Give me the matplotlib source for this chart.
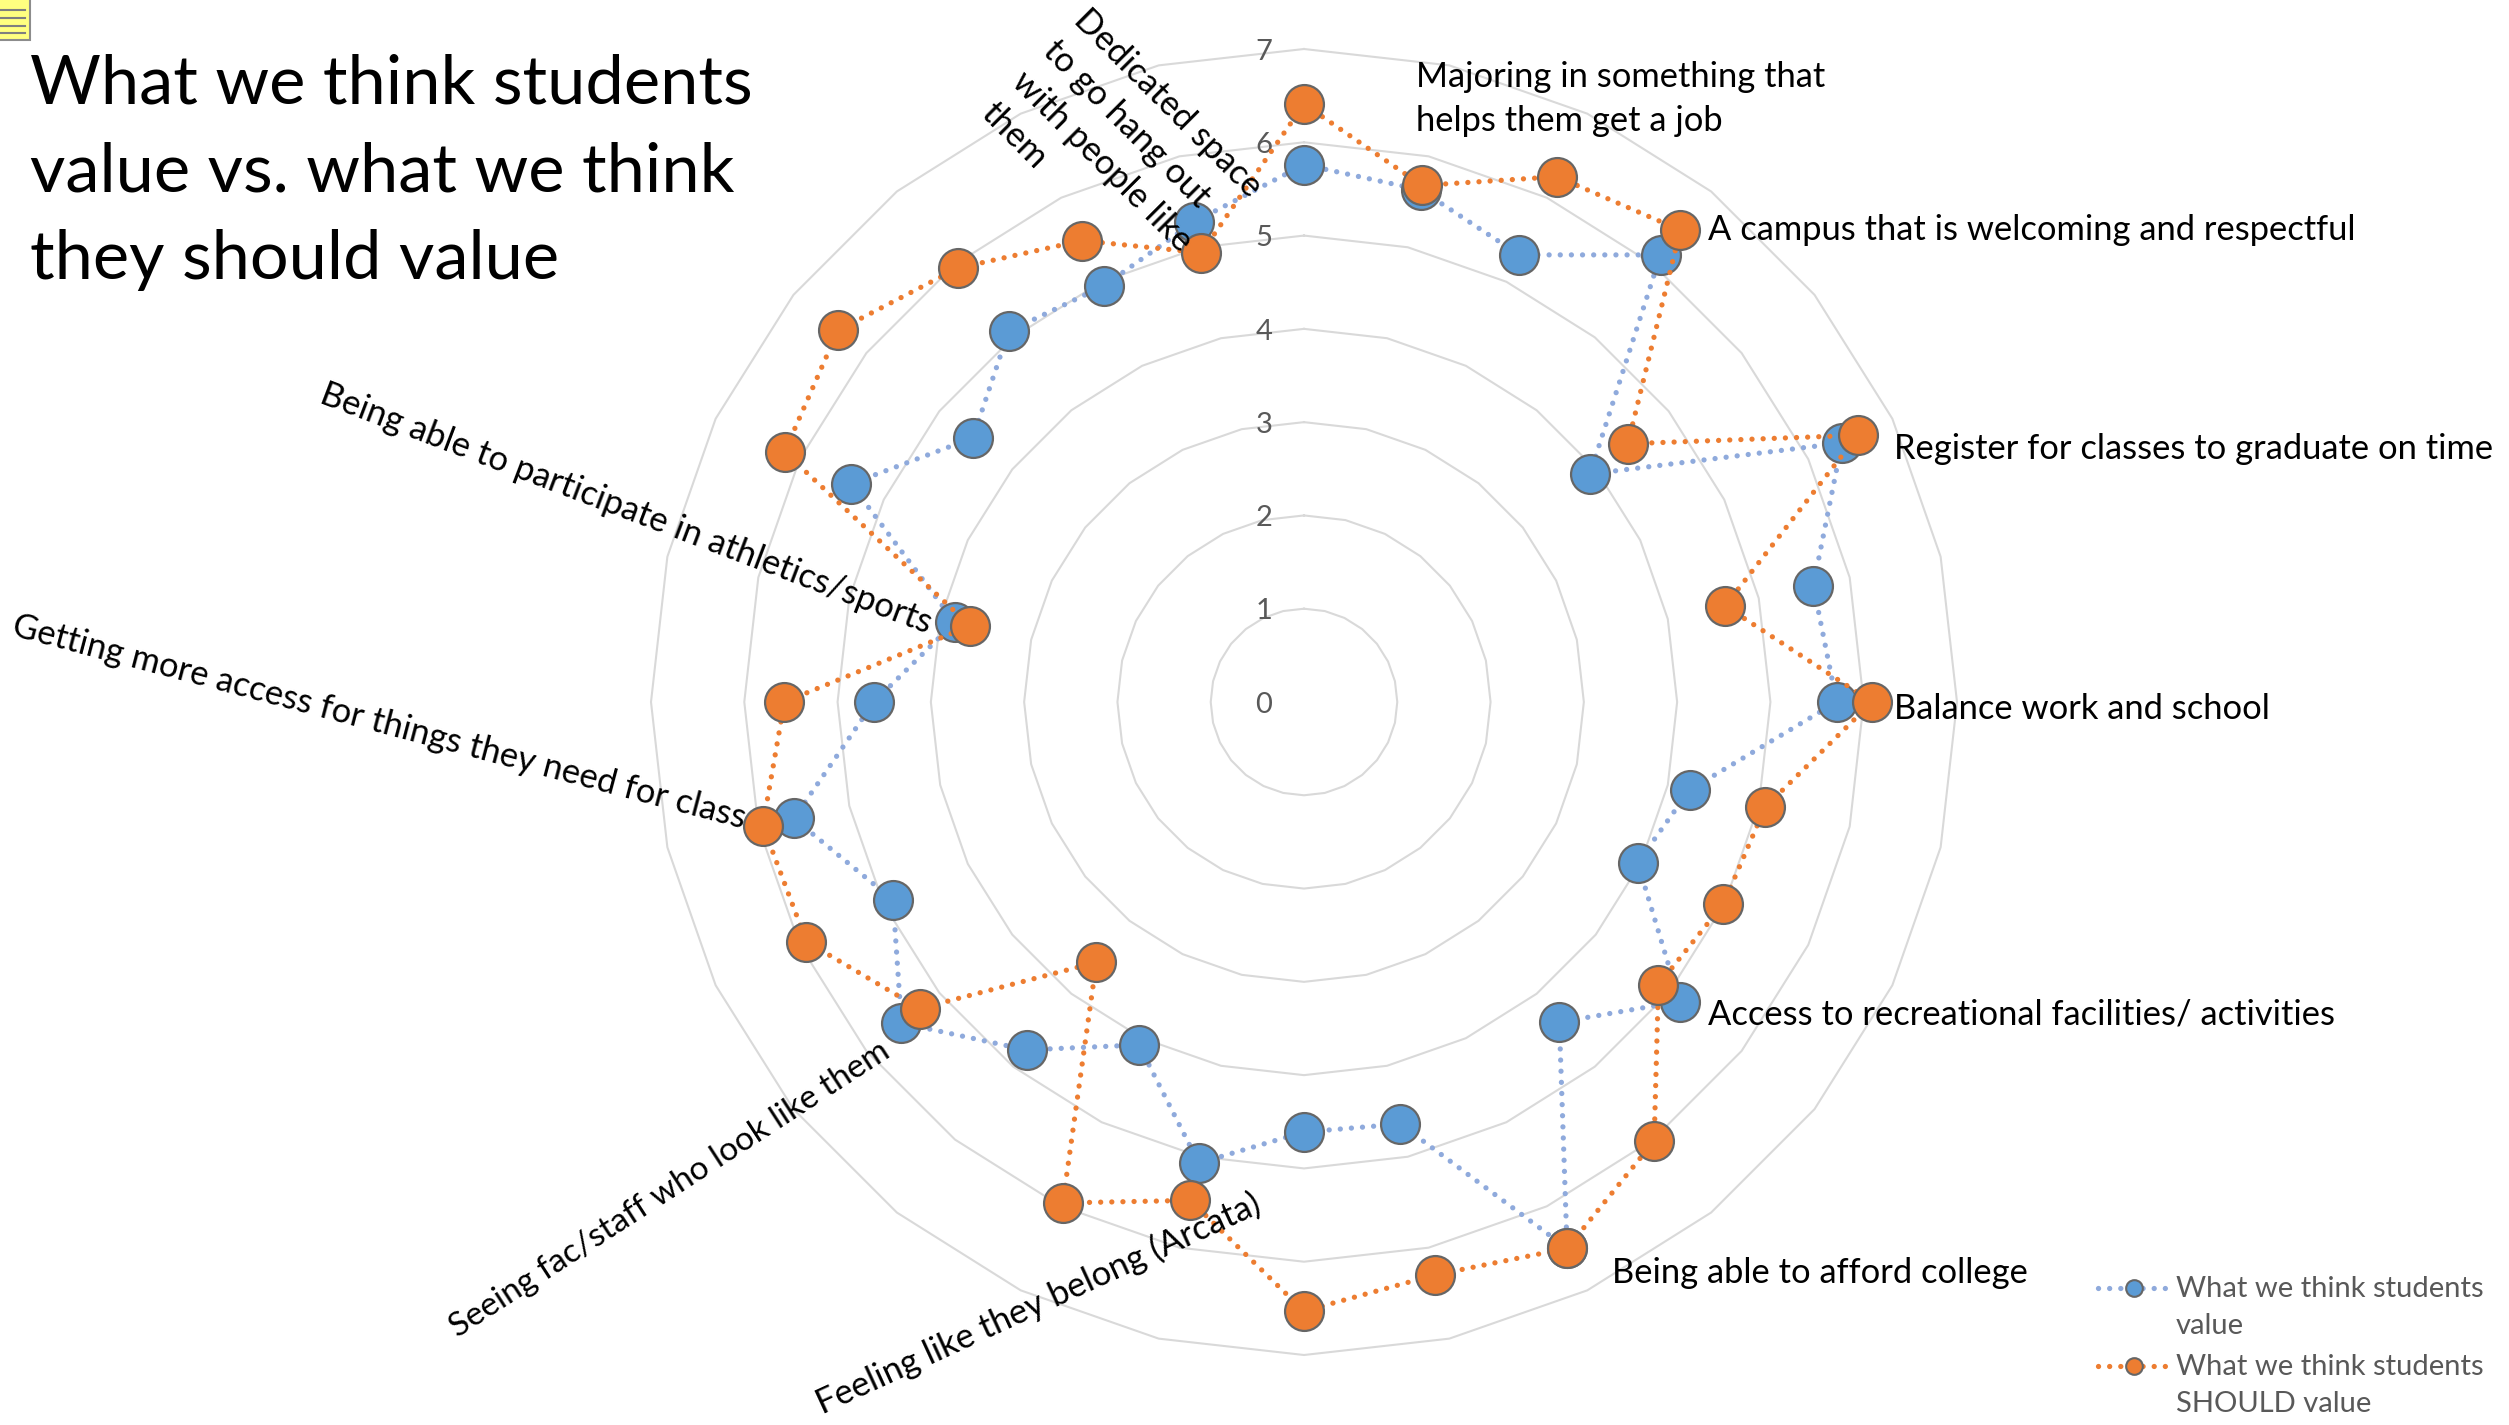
import matplotlib
matplotlib.use('Agg')
import matplotlib.pyplot as plt
import numpy as np
from matplotlib.lines import Line2D
from matplotlib.patches import Rectangle

W = 2509
H = 1425

think_value = [5.76, 5.63, 5.32, 6.13, 3.92, 6.40, 5.60, 5.71, 4.24, 3.97,
               5.15, 4.39, 6.50, 4.64, 4.61, 5.07, 4.08, 4.77, 5.52, 4.89,
               5.61, 4.61, 3.84, 5.39, 4.54, 5.08, 4.95, 5.28]
should_value = [6.41, 5.68, 6.25, 6.47, 4.44, 6.59, 4.63, 6.09, 5.07, 4.99,
                4.86, 6.02, 6.50, 6.30, 6.53, 5.48, 5.96, 3.57, 5.27, 5.92,
                5.95, 5.57, 3.67, 6.18, 6.39, 5.95, 5.49, 4.94]
ring_values = [0, 1, 2, 3, 4, 5, 6, 7]

title_text = 'What we think students\nvalue vs. what we think\nthey should value'
legend_think = 'What we think students\nvalue'
legend_should = 'What we think students\nSHOULD value'

plt.rcParams['font.family'] = ['Lato', 'DejaVu Sans']


def px(x, y):
    # figure fraction from pixel position, y counted from the top
    return x / W, 1 - y / H


fig = plt.figure(figsize=(W / 100, H / 100), dpi=100)
ax = fig.add_axes([651 / W, 70 / H, 1306 / W, 1306 / H], projection='polar')
ax.set_theta_zero_location('N')
ax.set_theta_direction(-1)
ax.set_ylim(0, 7)
ax.grid(False)
ax.set_xticks([])
ax.set_yticks([])
ax.spines['polar'].set_visible(False)
ax.patch.set_visible(False)

n = len(think_value)
theta = np.arange(n + 1) * 2 * np.pi / n

# polygon rings
for r in ring_values[1:]:
    ax.plot(theta, [r] * (n + 1), color='#D9D9D9', lw=1.5, zorder=1, clip_on=False)

for r in ring_values:
    ax.annotate(str(r), xy=(0, r), xytext=(-29, -2), textcoords='offset points',
                ha='center', va='center', fontsize=21, color='#595959', zorder=2)

dots = (0, (0.01, 2.1))


def draw_series(values, line_color, fill, z):
    vals = list(values) + [values[0]]
    ax.plot(theta, vals, color=line_color, lw=3.8, linestyle=dots,
            dash_capstyle='round', zorder=z, clip_on=False)
    ax.plot(theta[:-1], values, linestyle='none', marker='o', ms=28,
            mfc=fill, mec='#666666', mew=1.6, zorder=z + 1, clip_on=False)


draw_series(think_value, '#8FAADC', '#5B9BD5', 3)
draw_series(should_value, '#ED7D31', '#ED7D31', 5)

# title and note icon
fig.text(*px(30, 53), title_text, fontsize=49.3, color='black', va='top', ha='left',
         linespacing=1.52)
fig.add_artist(Rectangle(px(-2, 40), 32 / W, 42 / H, transform=fig.transFigure,
                         fc='#FFFF80', ec='#8C8C8C', lw=1.5))
for y in [10, 18, 26, 33]:
    x0, y0 = px(0, y)
    x1, y1 = px(25, y)
    fig.add_artist(Line2D([x0, x1], [y0, y1], transform=fig.transFigure,
                          color='#7F7F7F', lw=1.5))

# category labels
label_size = 24.8
flat_labels = [
    ('Majoring in something that\nhelps them get a job', 1416, 99),
    ('A campus that is welcoming and respectful', 1708, 230),
    ('Register for classes to graduate on time', 1894, 449),
    ('Balance work and school', 1894, 709),
    ('Access to recreational facilities/ activities', 1708, 1015),
    ('Being able to afford college', 1612, 1273),
]
for text, x, y in flat_labels:
    fig.text(*px(x, y), text, fontsize=label_size, ha='left', va='center',
             linespacing=1.47, zorder=10)

rotated_labels = [
    ('Being able to participate in athletics/sports', 626, 509, -20.8, label_size),
    ('Getting more access for things they need for class', 379, 722, -14.8, label_size),
    ('Seeing fac/staff who look like them', 670, 1189, 33.0, 24),
    ('Feeling like they belong (Arcata)', 1038, 1304, 24.7, label_size),
]
for text, x, y, angle, size in rotated_labels:
    fig.text(*px(x, y), text, fontsize=size, ha='center', va='center',
             rotation=angle, rotation_mode='anchor', zorder=10)

fig.text(*px(1091, 3), 'Dedicated space\nto go hang out\nwith people like\nthem',
         fontsize=label_size, ha='left', va='top', rotation=-45,
         rotation_mode='anchor', linespacing=1.47, zorder=10)

# legend
legend_rows = [(1288, '#8FAADC', '#5B9BD5', legend_think),
               (1366, '#ED7D31', '#ED7D31', legend_should)]
for y, line_color, fill, text in legend_rows:
    x0, yy = px(2098, y)
    x1, _ = px(2170, y)
    fig.add_artist(Line2D([x0, x1], [yy, yy], transform=fig.transFigure, color=line_color,
                          lw=3.8, linestyle=dots, dash_capstyle='round'))
    xm, _ = px(2134, y)
    fig.add_artist(Line2D([xm], [yy], transform=fig.transFigure, linestyle='none', marker='o',
                          ms=12, mfc=fill, mec='#666666', mew=1.5))
    fig.text(*px(2176, y - 12), text, fontsize=21, color='#595959', ha='left', va='top',
             linespacing=1.52)

fig.savefig('out.png', dpi=100)
